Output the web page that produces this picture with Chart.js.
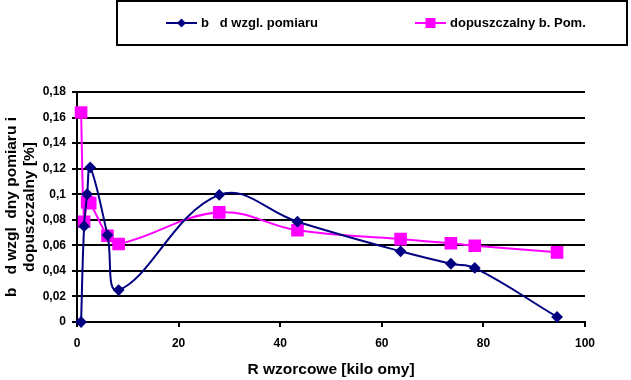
<!DOCTYPE html>
<html>
<head>
<meta charset="utf-8">
<script src="https://cdn.jsdelivr.net/npm/chart.js"></script>
<style>
    html, body { margin: 0; padding: 0; background: #fff; }
    #wrap { width: 631px; height: 380px; }
</style>
</head>
<body>
<div id="wrap"><canvas id="errorChart" width="631" height="380"></canvas></div>
<script>
// R wzorcowe [kilo omy]
var rValues = [0.8, 1.4, 2, 2.6, 6, 8.2, 28, 43.4, 63.7, 73.6, 78.3, 94.5];
// measured relative error and allowed error [%]
var measuredError = [0, 0.075, 0.1, 0.121, 0.068, 0.025, 0.0995, 0.0785, 0.0553, 0.0456, 0.0423, 0.004];
var allowedError = [0.164, 0.0785, 0.0937, 0.093, 0.0675, 0.061, 0.0858, 0.0718, 0.0649, 0.0616, 0.0597, 0.0545];
var seriesLabels = ['b   d wzgl. pomiaru', 'dopuszczalny b. Pom.'];
var seriesColors = ['#000080', '#FF00FF'];
var xTitle = 'R wzorcowe [kilo omy]';
var yTitle = ['b   d wzgl  dny pomiaru i', 'dopuszczalny [%]'];

var FONT = '"Liberation Sans", Arial, sans-serif';

function toPoints(xs, ys) {
    return xs.map(function(x, i) { return { x: x, y: ys[i] }; });
}

// boxed legend like the Excel original
var boxLegend = {
    id: 'boxLegend',
    afterDraw: function(chart) {
        var ctx = chart.ctx;
        ctx.save();
        ctx.strokeStyle = '#000';
        ctx.lineWidth = 2;
        ctx.strokeRect(117, 1, 510, 44);

        var items = [
            { x: 166, label: seriesLabels[0], color: seriesColors[0], shape: 'diamond' },
            { x: 415, label: seriesLabels[1], color: seriesColors[1], shape: 'square' }
        ];
        var y = 23;
        items.forEach(function(it) {
            ctx.strokeStyle = it.color;
            ctx.fillStyle = it.color;
            ctx.lineWidth = 2;
            ctx.beginPath();
            ctx.moveTo(it.x, y);
            ctx.lineTo(it.x + 31, y);
            ctx.stroke();
            var cx = it.x + 15.5;
            ctx.beginPath();
            if (it.shape === 'diamond') {
                ctx.moveTo(cx, y - 4.5);
                ctx.lineTo(cx + 4.5, y);
                ctx.lineTo(cx, y + 4.5);
                ctx.lineTo(cx - 4.5, y);
                ctx.closePath();
            } else {
                ctx.rect(cx - 5, y - 5, 10, 10);
            }
            ctx.fill();
            ctx.fillStyle = '#000';
            ctx.font = 'bold 13px ' + FONT;
            ctx.textBaseline = 'middle';
            ctx.textAlign = 'left';
            ctx.fillText(it.label, it.x + 35, y);
        });
        ctx.restore();
    }
};

var ctx = document.getElementById('errorChart').getContext('2d');
var errorChart = new Chart(ctx, {
    type: 'scatter',
    data: {
        datasets: [{
            label: seriesLabels[0],
            data: toPoints(rValues, measuredError),
            showLine: true,
            borderColor: seriesColors[0],
            backgroundColor: seriesColors[0],
            borderWidth: 2,
            tension: 0.4,
            pointStyle: 'rectRot',
            pointRadius: 4.5,
            pointHoverRadius: 4.5,
            clip: false
        }, {
            label: seriesLabels[1],
            data: toPoints(rValues, allowedError),
            showLine: true,
            borderColor: seriesColors[1],
            backgroundColor: seriesColors[1],
            borderWidth: 2,
            tension: 0.4,
            pointStyle: 'rect',
            pointRadius: 7.5,
            pointHoverRadius: 7.5,
            clip: false
        }]
    },
    options: {
        responsive: false,
        animation: false,
        layout: {
            padding: { top: 92, right: 46, bottom: 0, left: 0 }
        },
        plugins: {
            legend: { display: false },
            tooltip: { enabled: false }
        },
        scales: {
            x: {
                type: 'linear',
                min: 0,
                max: 100,
                afterFit: function(scale) { scale.height = 58; },
                ticks: {
                    stepSize: 20,
                    padding: 9,
                    color: '#000',
                    font: { family: FONT, size: 12, weight: 'bold' },
                    maxRotation: 0
                },
                grid: {
                    drawOnChartArea: false,
                    drawTicks: true,
                    tickLength: 5,
                    color: '#000',
                    lineWidth: 2
                },
                border: { color: '#000', width: 2 },
                title: {
                    display: true,
                    text: xTitle,
                    color: '#000',
                    font: { family: FONT, size: 15.5, weight: 'bold', lineHeight: 1.2 },
                    padding: { top: 0, bottom: 1 }
                }
            },
            y: {
                min: 0,
                max: 0.18,
                afterFit: function(scale) { scale.width = 77; },
                ticks: {
                    stepSize: 0.02,
                    padding: 6,
                    color: '#000',
                    font: { family: FONT, size: 12, weight: 'bold' },
                    callback: function(v) { return String(+v.toFixed(2)).replace('.', ','); }
                },
                grid: {
                    color: '#000',
                    lineWidth: 2,
                    tickLength: 5
                },
                border: { color: '#000', width: 2 },
                title: {
                    display: true,
                    text: yTitle,
                    color: '#000',
                    font: { family: FONT, size: 15.5, weight: 'bold', lineHeight: 1.16 },
                    padding: { top: 3, bottom: 0 }
                }
            }
        }
    },
    plugins: [boxLegend]
});
</script>
</body>
</html>
